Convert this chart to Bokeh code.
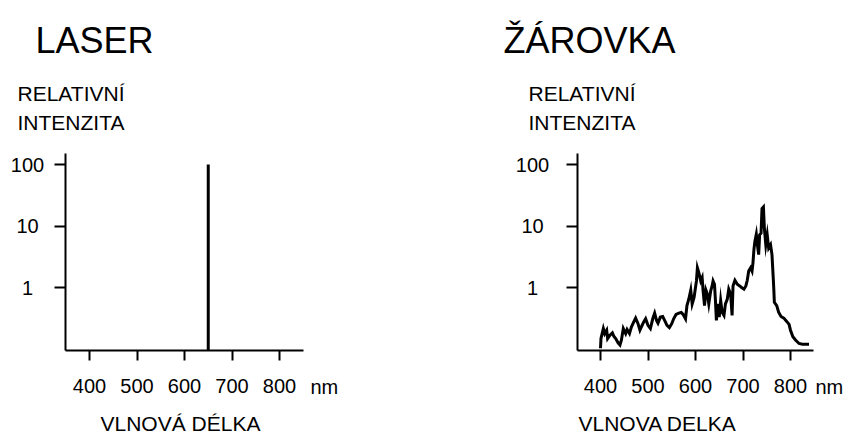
from bokeh.plotting import figure
from bokeh.layouts import row
from bokeh.models import Range1d, FixedTicker, Label, CustomJSTickFormatter
from bokeh.embed import file_html
from bokeh.resources import INLINE

FONT = "Liberation Sans"

# ---- data ----
laser_nm = [650]
laser_int = [100]

bulb_nm = [400, 401, 406, 409, 413, 415, 420, 425, 428, 432, 437, 441, 444, 448, 453, 456,
           461, 465, 470, 474, 479, 483, 486, 491, 495, 500, 505, 510, 514, 518, 521, 526,
           531, 535, 540, 545, 550, 554, 559, 565, 570, 574, 579, 582, 586, 590, 593, 597,
           599, 602, 604, 607, 611, 614, 616, 619, 622, 625, 628, 632, 635, 637, 640, 642,
           644, 647, 650, 653, 656, 660, 663, 667, 670, 674, 677, 679, 683, 688, 693, 697,
           702, 706, 709, 712, 716, 719, 721, 723, 725, 728, 731, 733, 735, 738, 740, 743,
           745, 748, 751, 754, 758, 761, 764, 765, 766, 771, 775, 780, 786, 792, 797, 800,
           805, 811, 818, 825, 839]
bulb_int = [0.103, 0.148, 0.215, 0.178, 0.202, 0.148, 0.168, 0.183, 0.162, 0.148, 0.126, 0.116,
            0.139, 0.215, 0.178, 0.207, 0.178, 0.228, 0.275, 0.318, 0.258, 0.202, 0.228, 0.275,
            0.310, 0.243, 0.215, 0.310, 0.383, 0.292, 0.264, 0.330, 0.338, 0.292, 0.243, 0.223,
            0.258, 0.310, 0.364, 0.383, 0.393, 0.364, 0.310, 0.508, 0.650, 0.906, 0.541, 0.691,
            0.884, 1.28, 2.09, 1.74, 1.28, 1.45, 0.884, 0.508, 0.906, 0.782, 0.541, 0.884,
            1.06, 1.28, 1.13, 0.611, 0.292, 0.541, 0.330, 0.611, 0.397, 0.351, 0.541, 0.650,
            0.940, 0.782, 0.351, 1.06, 1.31, 1.13, 1.06, 1.0, 0.94, 1.06, 1.31, 1.85,
            2.09, 1.85, 2.52, 4.12, 5.61, 7.35, 4.49, 3.42, 7.17, 7.63, 19.2, 20.4,
            9.18, 4.96, 7.17, 4.38, 4.96, 3.42, 1.28, 0.884, 0.575, 0.508, 0.397, 0.338,
            0.318, 0.281, 0.252, 0.202, 0.158, 0.139, 0.123, 0.120, 0.120]

xtick_values = [400, 500, 600, 700, 800]
ytick_values = [1, 10, 100]
ytick_labels = ["1", "10", "100"]

# ---- layout constants (pixels) ----
H = 434
PX_PER_NM = 0.475
PX_PER_DECADE = 61.5
Y100_PX = 164            # pixel row of the "100" tick
AX_TOP_PX, AX_BOT_PX = 153, 350
DY = 7                   # baseline correction for labels

LOG_TOP = 2 + Y100_PX / PX_PER_DECADE
LOG_BOT = LOG_TOP - H / PX_PER_DECADE
Y_AX_TOP = 10 ** (LOG_TOP - AX_TOP_PX / PX_PER_DECADE)
Y_AX_BOT = 10 ** (LOG_TOP - AX_BOT_PX / PX_PER_DECADE)


def lbl(p, text, x, y, size="21px", align="left", y_units="screen", y_offset=0):
    p.add_layout(Label(x=x, y=y, x_units="screen", y_units=y_units, y_offset=y_offset + DY,
                       text=text, text_font=FONT, text_font_size=size, text_color="black",
                       text_align=align, text_baseline="alphabetic"))


def make_panel(width, x400_px, ax_left_px, ax_right_px, title, title_x, ylab_x, ytick_cx,
               nm_x, xlabel, xlabel_x):
    x_start = 400 - x400_px / PX_PER_NM
    x_end = x_start + width / PX_PER_NM
    ax_x0 = x_start + ax_left_px / PX_PER_NM
    ax_x1 = x_start + ax_right_px / PX_PER_NM
    p = figure(width=width, height=H, x_range=Range1d(x_start, x_end),
               y_range=Range1d(10 ** LOG_BOT, 10 ** LOG_TOP), y_axis_type="log",
               output_backend="svg", toolbar_location=None,
               min_border_left=0, min_border_right=0, min_border_top=0, min_border_bottom=0)
    p.xgrid.visible = False
    p.ygrid.visible = False
    p.outline_line_color = None
    p.background_fill_color = "white"
    p.border_fill_color = "white"

    xa = p.xaxis[0]
    xa.fixed_location = Y_AX_BOT
    xa.bounds = (ax_x0, ax_x1)
    xa.ticker = FixedTicker(ticks=xtick_values, minor_ticks=[])
    xa.axis_line_width = 2
    xa.major_tick_line_width = 2
    xa.major_tick_out = 10
    xa.major_tick_in = 0
    xa.minor_tick_out = 0
    xa.minor_tick_in = 0
    xa.major_label_text_font = FONT
    xa.major_label_text_font_size = "20px"
    xa.major_label_text_color = "black"
    xa.major_label_standoff = 18

    ya = p.yaxis[0]
    ya.fixed_location = ax_x0
    ya.bounds = (Y_AX_BOT, Y_AX_TOP)
    ya.ticker = FixedTicker(ticks=ytick_values, minor_ticks=[])
    ya.axis_line_width = 2
    ya.major_tick_line_width = 2
    ya.major_tick_out = 11
    ya.major_tick_in = 0
    ya.minor_tick_out = 0
    ya.minor_tick_in = 0
    ya.formatter = CustomJSTickFormatter(code="return ''")
    ya.major_label_text_font_size = "0px"

    lbl(p, title, title_x, H - 47, size="36px")
    lbl(p, "RELATIVNÍ", ylab_x, H - 100)
    lbl(p, "INTENZITA", ylab_x, H - 129)
    for v, t in zip(ytick_values, ytick_labels):
        lbl(p, t, ytick_cx, v, size="20px", align="center", y_units="data", y_offset=-7)
    lbl(p, "nm", nm_x, H - 393, size="20px")
    lbl(p, xlabel, xlabel_x, H - 430)
    return p, Y_AX_BOT


p1, floor1 = make_panel(420, 89, 65, 303, "LASER", 35, 17, 27, 310, "VLNOVÁ DÉLKA", 100)
p1.segment(x0=laser_nm, y0=[floor1] * len(laser_nm), x1=laser_nm, y1=laser_int,
           line_width=3, line_color="black", line_cap="butt")

p2, floor2 = make_panel(423, 180, 157, 393, "ŽÁROVKA", 83, 108, 112, 395, "VLNOVA DELKA", 158)
p2.line(bulb_nm, bulb_int, line_width=3, line_color="black", line_join="miter")

layout = row(p1, p2)
open("out.html", "w").write(file_html(layout, INLINE))
